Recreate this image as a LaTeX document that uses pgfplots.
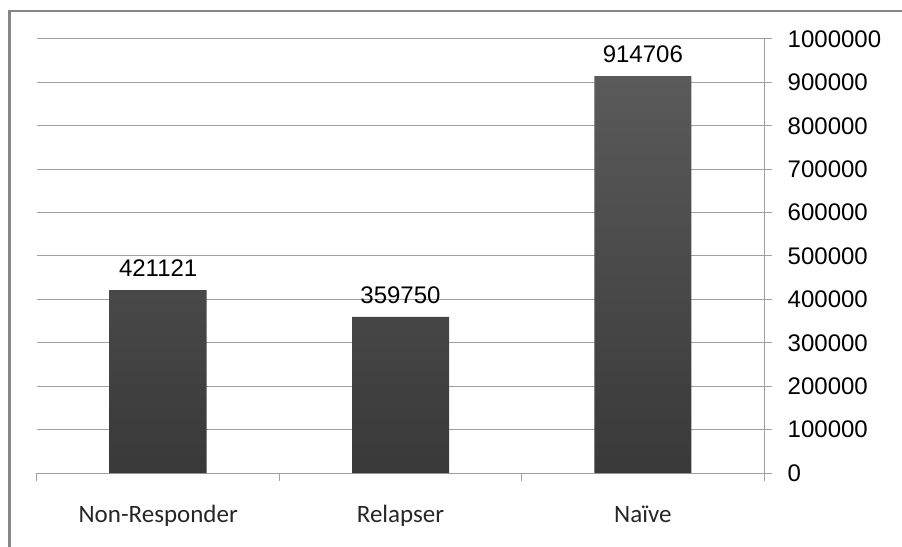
\documentclass[border=0pt]{standalone}
\usepackage{pgfplots}
\pgfplotsset{compat=1.18}
\usepackage{fontspec}
\setmainfont{Liberation Sans}
\newfontfamily\calibri{Carlito}
\definecolor{gridc}{HTML}{A0A0A0}
\definecolor{framec}{HTML}{868686}
\definecolor{bartop}{HTML}{5A5A5A}
\definecolor{barbot}{HTML}{393939}
\begin{document}
\begin{tikzpicture}
\useasboundingbox (-27.75pt,-54.75pt) rectangle (648.75pt,354.75pt);
\draw[framec, line width=1.8pt] (-20.6pt,-60pt) -- (-20.6pt,346.3pt) -- (660pt,346.3pt);
\begin{axis}[
  at={(0pt,0pt)}, anchor=south west,
  scale only axis, width=545.25pt, height=325.5pt,
  xmin=-0.5, xmax=2.5, ymin=0, ymax=1000000,
  axis x line*=bottom, axis y line*=right,
  axis line style={gridc, line width=0.75pt},
  tick align=outside, major tick length=6pt,
  tick style={gridc, line width=0.75pt},
  ytick={0,100000,200000,300000,400000,500000,600000,700000,800000,900000,1000000},
  scaled y ticks=false,
  yticklabel={\pgfmathprintnumber[fixed,precision=0,1000 sep={},assume math mode=true]{\tick}},
  ymajorgrids, grid style={gridc, line width=0.75pt},
  yticklabel style={font=\fontsize{18pt}{18pt}\selectfont, anchor=west, inner sep=0pt, xshift=11.6pt, text=black},
  xtick={-0.5,0.5,1.5,2.5}, xticklabels={},
  extra x ticks={0,1,2},
  extra x tick labels={Non-Responder,Relapser,Naïve},
  extra x tick style={major tick length=0pt, tick style={draw=none},
    xticklabel style={font=\calibri\fontsize{18.75pt}{18.75pt}\selectfont, text=black!85, anchor=base, inner sep=0pt, yshift=-36.75pt}},
  clip=false,
]
\addplot[ybar, bar width=72.75pt, draw=none, top color=bartop, bottom color=barbot,
  point meta=explicit symbolic,
  nodes near coords,
  nodes near coords style={font=\fontsize{18pt}{18pt}\selectfont, text=black, anchor=south, inner sep=0pt, yshift=9.75pt}]
  coordinates {(0,421121) [421121] (1,359750) [359750] (2,914706) [914706]};
\end{axis}
\end{tikzpicture}
\end{document}
